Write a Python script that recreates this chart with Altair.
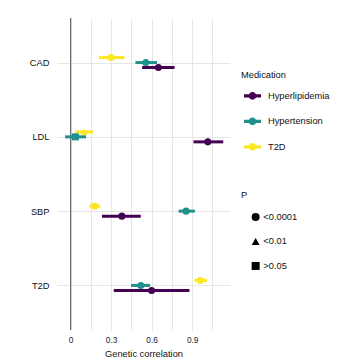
import altair as alt
import pandas as pd

traits = ["CAD"] * 3 + ["LDL"] * 3 + ["SBP"] * 3 + ["T2D"] * 3
medications = ["Hyperlipidemia", "Hypertension", "T2D"] * 4
estimates = [0.65, 0.557, 0.30, 1.016, 0.036, 0.10, 0.38, 0.855, 0.18, 0.60, 0.52, 0.96]
lower = [0.53, 0.48, 0.21, 0.91, -0.04, 0.036, 0.233, 0.80, 0.14, 0.32, 0.448, 0.917]
upper = [0.77, 0.64, 0.40, 1.13, 0.115, 0.17, 0.52, 0.92, 0.22, 0.88, 0.589, 1.01]
pvals = ["<0.0001", "<0.0001", "<0.0001",
         "<0.0001", ">0.05", "<0.01",
         "<0.0001", "<0.0001", "<0.0001",
         "<0.0001", "<0.0001", "<0.0001"]

trait_order = ["CAD", "LDL", "SBP", "T2D"]
med_order = ["Hyperlipidemia", "Hypertension", "T2D"]
p_order = ["<0.0001", "<0.01", ">0.05"]
colors = ["#440154", "#21908C", "#FDE725"]
x_grid = [0, 0.15, 0.3, 0.45, 0.6, 0.75, 0.9, 1.05]

df = pd.DataFrame({
    "trait": traits, "med": medications, "est": estimates,
    "lo": lower, "hi": upper, "p": pvals,
})

FS = 9.3
y_enc = alt.Y("trait:N", sort=trait_order,
              scale=alt.Scale(type="point", padding=0.6, domain=trait_order),
              axis=alt.Axis(title=None, ticks=False, domain=False, labelPadding=8,
                            labelFontSize=FS, labelColor="#111111", grid=True,
                            gridColor="#E6E6E6", gridWidth=1))
yoff = alt.YOffset("med:N",
                   scale=alt.Scale(type="point", domain=["T2D", "Hypertension", "Hyperlipidemia"],
                                   range=[-7.5, 7.5]))
x_scale = alt.Scale(domain=[-0.1, 1.18], nice=False, zero=False)
x_axis = alt.Axis(title="Genetic correlation", values=x_grid, format=".1~f", grid=True,
                  labelExpr="(datum.value==0||datum.value==0.3||datum.value==0.6||datum.value==0.9) ? datum.label : ''",
                  ticks=False, domain=False, labelPadding=5, labelFontSize=8.3,
                  labelColor="#222222", titleFontSize=FS, titleFontWeight="normal",
                  titlePadding=6, titleColor="#111111", gridColor="#E6E6E6", gridWidth=1)
color_scale = alt.Scale(domain=med_order, range=colors)

legend_path = ("M-1,-0.19L-0.42,-0.19L-0.42,0.19L-1,0.19Z "
               "M0.42,-0.19L1,-0.19L1,0.19L0.42,0.19Z "
               "M0,-0.46A0.46,0.46,0,1,1,0,0.46A0.46,0.46,0,1,1,0,-0.46Z")

color_legend = alt.Legend(title="Medication", orient="none", legendX=184, legendY=53,
                          symbolType=legend_path, symbolSize=289, symbolStrokeWidth=0,
                          symbolOffset=3, labelOffset=7, rowPadding=11.5, titlePadding=7,
                          labelFontSize=FS, titleFontSize=FS, titleFontWeight="normal",
                          labelColor="#111111", titleColor="#111111")

zero = alt.Chart(df).mark_rule(color="#6b6b6b", strokeWidth=1).encode(
    x=alt.datum(0, scale=x_scale, axis=x_axis))

bars = alt.Chart(df).mark_rule(strokeWidth=3).encode(
    x=alt.X("lo:Q", scale=x_scale, axis=x_axis),
    x2="hi:Q",
    y=y_enc,
    yOffset=yoff,
    color=alt.Color("med:N", scale=color_scale, legend=color_legend),
)

points = alt.Chart(df).mark_point(filled=True, size=50, opacity=1).encode(
    x=alt.X("est:Q", scale=x_scale, axis=x_axis),
    y=y_enc,
    yOffset=yoff,
    color=alt.Color("med:N", scale=color_scale, legend=color_legend),
    shape=alt.Shape("p:N", scale=alt.Scale(domain=p_order, range=["circle", "triangle-up", "square"]),
                    legend=alt.Legend(title="P", orient="none", legendX=184, legendY=173,
                                      symbolSize=64, symbolFillColor="black", symbolStrokeWidth=0,
                                      symbolOffset=10, labelOffset=3, rowPadding=14.5, titlePadding=12,
                                      labelFontSize=FS, titleFontSize=FS, titleFontWeight="normal",
                                      labelColor="#111111", titleColor="#111111")),
)

chart = alt.layer(zero, bars, points).properties(
    width=173, height=312,
    autosize=alt.AutoSizeParams(type="none"),
    padding={"left": 57, "top": 18, "right": 107, "bottom": 34},
    background="white",
).configure(font="Liberation Sans").configure_view(stroke=None)

chart.save("out.html", embed_options={"renderer": "svg", "actions": False})
